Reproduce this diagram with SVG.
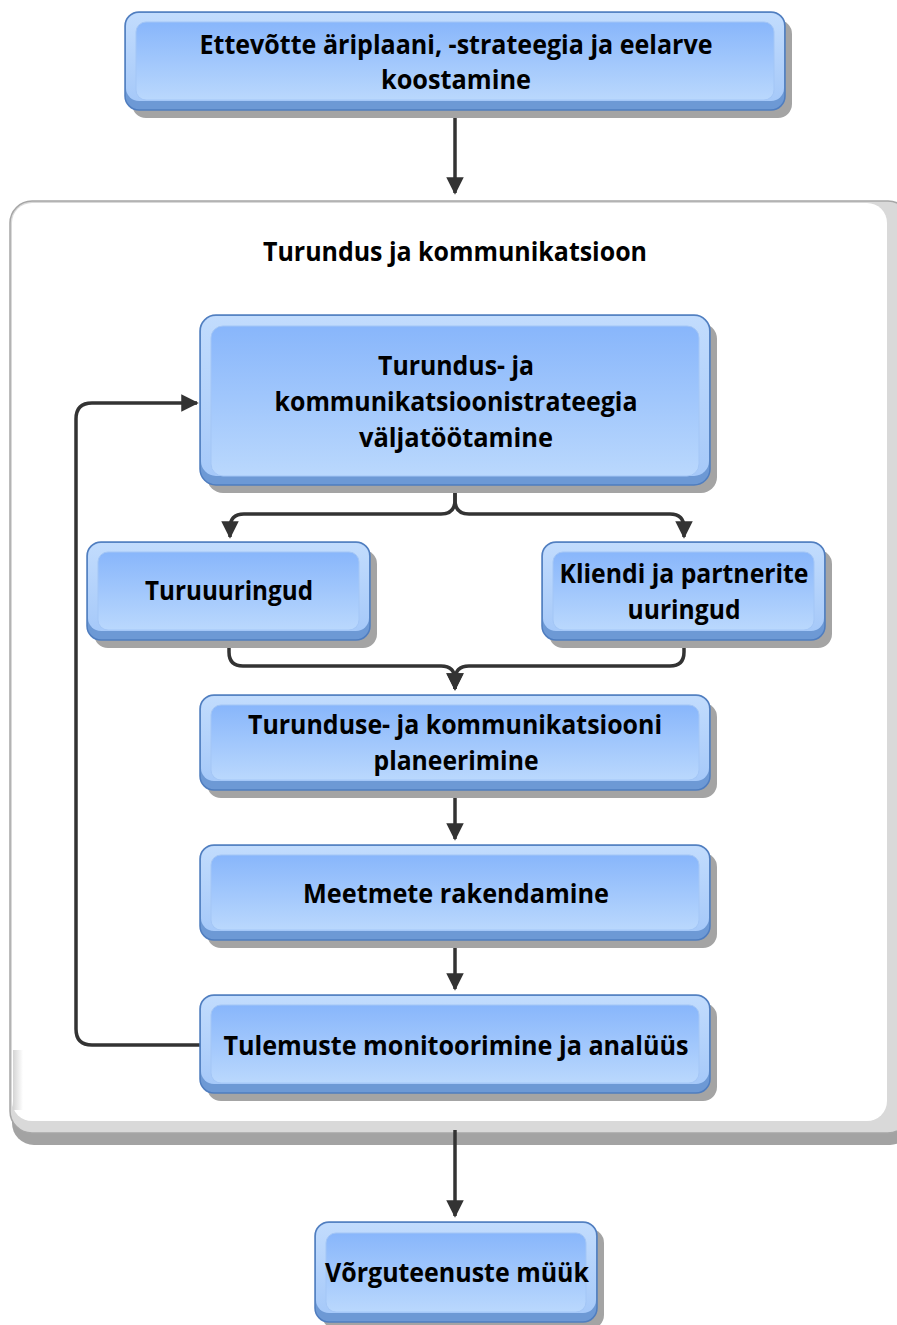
<svg xmlns="http://www.w3.org/2000/svg" width="897" height="1325" viewBox="0 0 897 1325">
  <defs>
    <linearGradient id="face" x1="0" y1="0" x2="0" y2="1">
      <stop offset="0" stop-color="#88b6fb"/>
      <stop offset="1" stop-color="#bad8fd"/>
    </linearGradient>
    <linearGradient id="lip" x1="0" y1="0" x2="0" y2="1">
      <stop offset="0" stop-color="#c2dcfd"/>
      <stop offset="1" stop-color="#a6c9f9"/>
    </linearGradient>
    <linearGradient id="bevelL" x1="0" y1="0" x2="1" y2="0">
      <stop offset="0" stop-color="#d4d4d4"/>
      <stop offset="1" stop-color="#ffffff"/>
    </linearGradient>
    <marker id="arr" viewBox="0 0 10 10" refX="9" refY="5" markerWidth="5" markerHeight="5" markerUnits="strokeWidth" orient="auto">
      <path d="M0,0 L10,5 L0,10 z" fill="#333333"/>
    </marker>
    <style>
      .sh { fill: #a4a4a4; }
      .rim { fill: #6d99d5; stroke: #4f7dbf; stroke-width: 1.5; }
      .lip { fill: url(#lip); }
      .face { fill: url(#face); stroke: #a3c6f6; stroke-width: 1; }
      .t { font-family: "Open Sans", "Noto Sans", "DejaVu Sans", sans-serif; font-weight: 700; font-size: 27px; fill: #000000; text-anchor: middle; }
      .c { fill: none; stroke: #333333; stroke-width: 3.5; stroke-linejoin: round; }
    </style>
  </defs>

  <rect width="897" height="1325" fill="#ffffff"/>

  <!-- container: Turundus ja kommunikatsioon -->
  <g id="container">
    <rect x="12" y="212" width="900" height="933" rx="22" fill="#a3a3a3"/>
    <rect x="10" y="201" width="900" height="932" rx="22" fill="#d9d9d9" stroke="#a6a6a6" stroke-width="1.5"/>
    <rect x="12" y="203" width="875" height="918" rx="20" fill="#ffffff"/>
    <rect x="13" y="1050" width="10" height="60" fill="url(#bevelL)"/>
    <text class="t" x="455" y="261" textLength="384" lengthAdjust="spacingAndGlyphs">Turundus ja kommunikatsioon</text>
  </g>

  <!-- connectors -->
  <g id="connectors">
    <path class="c" d="M455,110 V193" marker-end="url(#arr)"/>
    <path class="c" d="M455,488 V500 Q455,514 441,514 H244 Q230,514 230,528 V537" marker-end="url(#arr)"/>
    <path class="c" d="M455,488 V500 Q455,514 469,514 H670 Q684,514 684,528 V537" marker-end="url(#arr)"/>
    <path class="c" d="M229,640 V652 Q229,666 243,666 H441 Q455,666 455,680 V689" marker-end="url(#arr)"/>
    <path class="c" d="M684,640 V652 Q684,666 670,666 H469 Q455,666 455,680 V689" marker-end="url(#arr)"/>
    <path class="c" d="M455,790 V839" marker-end="url(#arr)"/>
    <path class="c" d="M455,940 V989" marker-end="url(#arr)"/>
    <path class="c" d="M200,1045 H92 Q76,1045 76,1029 V419 Q76,403 92,403 H197" marker-end="url(#arr)"/>
    <path class="c" d="M455,1130 V1216" marker-end="url(#arr)"/>
  </g>

  <!-- process boxes -->
  <g id="n-business-plan">
    <rect class="sh" x="132" y="20" width="660" height="98" rx="14"/>
    <rect class="rim" x="125" y="12" width="660" height="98" rx="14"/>
    <rect class="lip" x="126" y="13" width="658" height="88" rx="13"/>
    <rect class="face" x="136" y="22" width="638" height="78" rx="10"/>
    <text class="t" x="456" y="54" textLength="513" lengthAdjust="spacingAndGlyphs">Ettevõtte äriplaani, -strateegia ja eelarve</text>
    <text class="t" x="456" y="89" textLength="150" lengthAdjust="spacingAndGlyphs">koostamine</text>
  </g>

  <g id="n-strategy">
    <rect class="sh" x="207" y="323" width="510" height="170" rx="16"/>
    <rect class="rim" x="200" y="315" width="510" height="170" rx="16"/>
    <rect class="lip" x="201" y="316" width="508" height="160" rx="15"/>
    <rect class="face" x="211" y="326" width="488" height="150" rx="12"/>
    <text class="t" x="456" y="375" textLength="156" lengthAdjust="spacingAndGlyphs">Turundus- ja</text>
    <text class="t" x="456" y="411" textLength="363" lengthAdjust="spacingAndGlyphs">kommunikatsioonistrateegia</text>
    <text class="t" x="456" y="447" textLength="194" lengthAdjust="spacingAndGlyphs">väljatöötamine</text>
  </g>

  <g id="n-market-research">
    <rect class="sh" x="94" y="550" width="283" height="98" rx="14"/>
    <rect class="rim" x="87" y="542" width="283" height="98" rx="14"/>
    <rect class="lip" x="88" y="543" width="281" height="88" rx="13"/>
    <rect class="face" x="98" y="552" width="261" height="78" rx="10"/>
    <text class="t" x="229" y="600" textLength="168" lengthAdjust="spacingAndGlyphs">Turuuuringud</text>
  </g>

  <g id="n-client-research">
    <rect class="sh" x="549" y="550" width="283" height="98" rx="14"/>
    <rect class="rim" x="542" y="542" width="283" height="98" rx="14"/>
    <rect class="lip" x="543" y="543" width="281" height="88" rx="13"/>
    <rect class="face" x="553" y="552" width="261" height="78" rx="10"/>
    <text class="t" x="684" y="583" textLength="249" lengthAdjust="spacingAndGlyphs">Kliendi ja partnerite</text>
    <text class="t" x="684" y="619" textLength="113" lengthAdjust="spacingAndGlyphs">uuringud</text>
  </g>

  <g id="n-planning">
    <rect class="sh" x="207" y="703" width="510" height="95" rx="14"/>
    <rect class="rim" x="200" y="695" width="510" height="95" rx="14"/>
    <rect class="lip" x="201" y="696" width="508" height="85" rx="13"/>
    <rect class="face" x="211" y="705" width="488" height="75" rx="10"/>
    <text class="t" x="455" y="734" textLength="414" lengthAdjust="spacingAndGlyphs">Turunduse- ja kommunikatsiooni</text>
    <text class="t" x="456" y="770" textLength="165" lengthAdjust="spacingAndGlyphs">planeerimine</text>
  </g>

  <g id="n-implementation">
    <rect class="sh" x="207" y="853" width="510" height="95" rx="14"/>
    <rect class="rim" x="200" y="845" width="510" height="95" rx="14"/>
    <rect class="lip" x="201" y="846" width="508" height="85" rx="13"/>
    <rect class="face" x="211" y="855" width="488" height="75" rx="10"/>
    <text class="t" x="456" y="903" textLength="306" lengthAdjust="spacingAndGlyphs">Meetmete rakendamine</text>
  </g>

  <g id="n-monitoring">
    <rect class="sh" x="207" y="1003" width="510" height="98" rx="14"/>
    <rect class="rim" x="200" y="995" width="510" height="98" rx="14"/>
    <rect class="lip" x="201" y="996" width="508" height="88" rx="13"/>
    <rect class="face" x="211" y="1005" width="488" height="78" rx="10"/>
    <text class="t" x="456" y="1055" textLength="465" lengthAdjust="spacingAndGlyphs">Tulemuste monitoorimine ja analüüs</text>
  </g>

  <g id="n-sales">
    <rect class="sh" x="322" y="1229" width="282" height="100" rx="14"/>
    <rect class="rim" x="315" y="1222" width="282" height="100" rx="14"/>
    <rect class="lip" x="316" y="1223" width="280" height="90" rx="13"/>
    <rect class="face" x="326" y="1233" width="260" height="79" rx="10"/>
    <text class="t" x="457" y="1282" textLength="264" lengthAdjust="spacingAndGlyphs">Võrguteenuste müük</text>
  </g>
</svg>
